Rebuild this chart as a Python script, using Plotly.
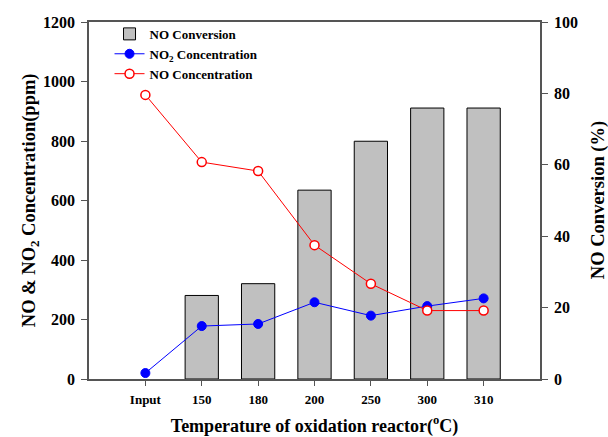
import plotly.graph_objects as go

categories = ["Input", "150", "180", "200", "250", "300", "310"]
no_conversion = [None, 23.4, 26.7, 52.9, 66.6, 75.9, 75.9]
no2_conc = [20, 178, 185, 258, 213, 245, 271]
no_conc = [955, 729, 699, 450, 320, 230, 230]

font_family = "Liberation Serif, Times New Roman, serif"
axis_color = "#555555"

fig = go.Figure()
fig.add_trace(go.Bar(
    x=categories, y=no_conversion, name="NO Conversion",
    marker=dict(color="#c0c0c0", line=dict(color="black", width=1)),
    width=0.59, yaxis="y",
))
fig.add_trace(go.Scatter(
    x=categories, y=no2_conc, name="NO<sub>2</sub> Concentration",
    mode="lines+markers", yaxis="y2",
    line=dict(color="blue", width=1),
    marker=dict(color="blue", size=9, line=dict(color="blue", width=1)),
))
fig.add_trace(go.Scatter(
    x=categories, y=no_conc, name="NO Concentration",
    mode="lines+markers", yaxis="y2",
    line=dict(color="red", width=1),
    marker=dict(color="white", size=9, line=dict(color="red", width=1.5)),
))

fig.update_layout(
    width=608, height=437,
    margin=dict(l=89, r=68, t=22, b=58, autoexpand=False),
    paper_bgcolor="white", plot_bgcolor="white",
    font=dict(family=font_family, color="black", size=14),
    showlegend=True,
    legend=dict(x=0.0455, y=1.0086, xanchor="left", yanchor="top",
                bgcolor="rgba(0,0,0,0)", font=dict(size=13, family=font_family, weight="bold"),
                traceorder="normal", tracegroupgap=0, itemwidth=30),
    xaxis=dict(
        type="category", categoryorder="array", categoryarray=categories,
        range=[-1, 7], showline=True, linecolor=axis_color, linewidth=1.5,
        mirror=True, ticks="outside", ticklen=5, tickcolor=axis_color,
        showgrid=False, zeroline=False, automargin=False, ticklabelstandoff=3,
        tickfont=dict(size=13, weight="bold"),
        title=dict(text="Temperature of oxidation reactor(<sup>o</sup>C)",
                   font=dict(size=18, weight="bold"), standoff=15),
    ),
    yaxis=dict(
        side="right", range=[0, 100], tickvals=[0, 20, 40, 60, 80, 100],
        showline=True, linecolor=axis_color, linewidth=1.5,
        ticks="outside", ticklen=6, tickcolor=axis_color,
        showgrid=False, zeroline=False, ticklabelstandoff=3, automargin=False,
        tickfont=dict(size=16, weight="bold"),
    ),
    yaxis2=dict(
        side="left", overlaying="y", range=[0, 1200],
        tickvals=[0, 200, 400, 600, 800, 1000, 1200],
        showline=True, linecolor=axis_color, linewidth=1.5,
        ticks="outside", ticklen=6, tickcolor=axis_color,
        showgrid=False, zeroline=False, ticklabelstandoff=3, automargin=False,
        tickfont=dict(size=16, weight="bold"),
    ),
    annotations=[
        dict(text="NO &amp; NO<sub>2</sub> Concentration(ppm)", textangle=-90,
             xref="paper", yref="paper", x=(30 - 89) / 451, y=0.501,
             xanchor="center", yanchor="middle", showarrow=False,
             font=dict(size=18.5, weight="bold", family=font_family)),
        dict(text="NO Conversion (%)", textangle=-90,
             xref="paper", yref="paper", x=(598 - 89) / 451, y=0.501,
             xanchor="center", yanchor="middle", showarrow=False,
             font=dict(size=18.5, weight="bold", family=font_family)),
    ],
)

fig.write_html("out.html", config={"displayModeBar": False},
               post_script="document.body.style.margin='0';")
